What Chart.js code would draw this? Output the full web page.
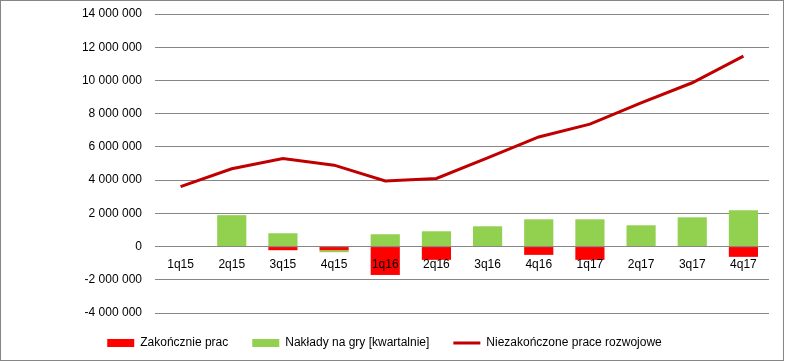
<!DOCTYPE html>
<html>
<head>
<meta charset="utf-8">
<script src="https://cdn.jsdelivr.net/npm/chart.js@4.4.1/dist/chart.umd.min.js"></script>
<style>
    body { margin: 0; background: #fff; }
    #wrap { position: relative; width: 785px; height: 361px; }
    #frame {
        position: absolute; left: 0; top: 0; width: 782px; height: 359px;
        border: 1px solid #868686;
        pointer-events: none;
    }
</style>
</head>
<body>
<div id="wrap">
    <canvas id="chart" width="785" height="361"></canvas>
    <div id="frame"></div>
</div>
<script>
const labels = ["1q15", "2q15", "3q15", "4q15", "1q16", "2q16", "3q16", "4q16", "1q17", "2q17", "3q17", "4q17"];
const zakonczenie = [0, 0, -220000, -220000, -1710000, -800000, 0, -500000, -800000, 0, 0, -620000];
const naklady = [0, 1890000, 800000, -120000, 740000, 920000, 1220000, 1640000, 1640000, 1280000, 1760000, 2180000];
const niezakonczone = [3610000, 4680000, 5300000, 4900000, 3950000, 4100000, 5340000, 6600000, 7370000, 8650000, 9860000, 11460000];

const yMin = -4000000;
const yMax = 14000000;
const yStep = 2000000;

function formatNum(v) {
    return v.toString().replace(/\B(?=(\d{3})+(?!\d))/g, " ");
}

Chart.defaults.font.family = "'Liberation Sans', Arial, sans-serif";
Chart.defaults.font.size = 12;
Chart.defaults.color = "#000";

const ctx = document.getElementById("chart").getContext("2d");
new Chart(ctx, {
    type: "bar",
    data: {
        labels: labels,
        datasets: [
            {
                label: "Zakończnie prac",
                data: zakonczenie,
                backgroundColor: "#ff0000",
                borderWidth: 0,
                pointStyle: "rect",
                stack: "bars",
                barPercentage: 0.57,
                categoryPercentage: 1,
            },
            {
                label: "Nakłady na gry [kwartalnie]",
                data: naklady,
                backgroundColor: "#92d050",
                borderWidth: 0,
                pointStyle: "rect",
                stack: "bars",
                barPercentage: 0.57,
                categoryPercentage: 1,
            },
            {
                type: "line",
                label: "Niezakończone prace rozwojowe",
                data: niezakonczone,
                borderColor: "#c00000",
                backgroundColor: "#c00000",
                borderWidth: 3,
                pointRadius: 0,
                pointStyle: "line",
                tension: 0,
                stack: "line",
            },
        ],
    },
    options: {
        responsive: false,
        animation: false,
        devicePixelRatio: 1,
        layout: {
            padding: { top: 14, right: 16, bottom: 2, left: 0 },
        },
        plugins: {
            tooltip: { enabled: false },
            legend: {
                position: "bottom",
                labels: {
                    usePointStyle: true,
                    pointStyleWidth: 27,
                    boxHeight: 8,
                    padding: 24,
                    color: "#000",
                    font: { size: 12 },
                },
            },
        },
        scales: {
            x: {
                stacked: true,
                position: { y: 0 },
                grid: { display: false },
                border: { display: false },
                ticks: { padding: 3, color: "#000", z: 1 },
                afterFit: (scale) => { scale.height = 0; },
            },
            y: {
                stacked: true,
                min: yMin,
                max: yMax,
                ticks: {
                    stepSize: yStep,
                    padding: 13,
                    color: "#000",
                    callback: (v) => formatNum(v),
                },
                grid: { color: "#868686", drawTicks: false, lineWidth: 1 },
                border: { display: false },
                afterFit: (scale) => {
                    scale.width = 155;
                    scale.paddingTop = 0;
                    scale.paddingBottom = 0;
                },
            },
        },
    },
});
</script>
</body>
</html>
